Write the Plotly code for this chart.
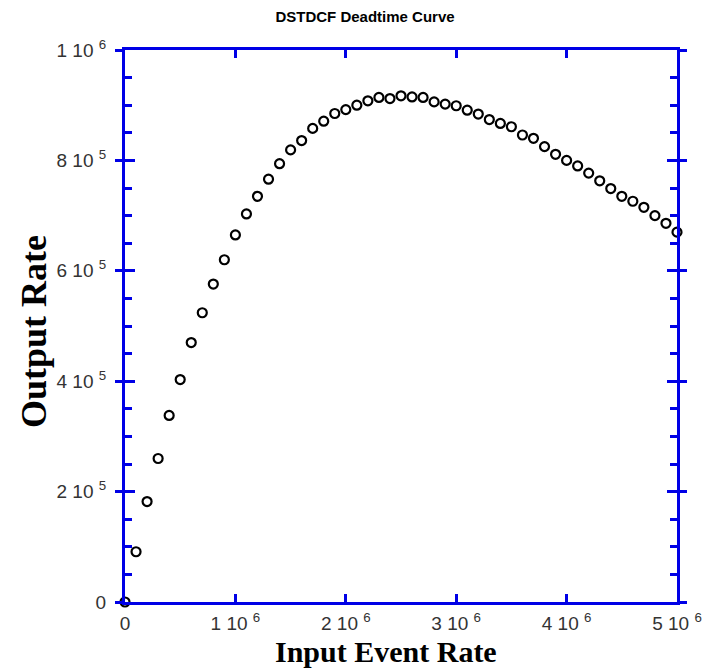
import plotly.graph_objects as go

# ---- data ----
input_rate = [0, 100000, 200000, 300000, 400000, 500000, 600000, 700000, 800000, 900000,
              1000000, 1100000, 1200000, 1300000, 1400000, 1500000, 1600000, 1700000, 1800000, 1900000,
              2000000, 2100000, 2200000, 2300000, 2400000, 2500000, 2600000, 2700000, 2800000, 2900000,
              3000000, 3100000, 3200000, 3300000, 3400000, 3500000, 3600000, 3700000, 3800000, 3900000,
              4000000, 4100000, 4200000, 4300000, 4400000, 4500000, 4600000, 4700000, 4800000, 4900000,
              5000000]
output_rate = [0, 91000, 182000, 260000, 338000, 403000, 470000, 524000, 576000, 620000,
               665000, 703000, 735000, 766000, 794000, 819000, 836000, 858000, 871000, 885000,
               892000, 900000, 908000, 914000, 912000, 917000, 915000, 914000, 906000, 902000,
               899000, 891000, 884000, 874000, 867000, 861000, 846000, 840000, 825000, 811000,
               800000, 790000, 777000, 763000, 749000, 735000, 726000, 715000, 700000, 686000,
               670000]

x_tickvals = [0, 1000000, 2000000, 3000000, 4000000, 5000000]
x_ticktext = ["0", "1 10 <sup>6</sup>", "2 10 <sup>6</sup>", "3 10 <sup>6</sup>",
              "4 10 <sup>6</sup>", "5 10 <sup>6</sup>"]
y_tickvals = [0, 200000, 400000, 600000, 800000, 1000000]
y_ticktext = ["0", "2 10 <sup>5</sup>", "4 10 <sup>5</sup>", "6 10 <sup>5</sup>",
              "8 10 <sup>5</sup>", "1 10 <sup>6</sup>"]

title_text = "DSTDCF Deadtime Curve"
x_title = "Input Event Rate"
y_title = "Output Rate"

BLUE = "#0000E6"
LABEL_FONT = dict(family="Liberation Sans, Arial, sans-serif", size=19, color="#333333")

# page body has an 8px default margin; the figure is sized so the page fits 720x668
W, H = 712, 660
L, T, PW, PH = 117, 42, 552, 552

fig = go.Figure()
fig.add_trace(go.Scatter(
    x=input_rate, y=output_rate, mode="markers",
    marker=dict(symbol="circle-open", size=9, color="black", line=dict(width=2.2, color="black")),
    cliponaxis=False, showlegend=False, hoverinfo="skip",
))
# same data bound to the overlay axis (transparent) so that axis is rendered
fig.add_trace(go.Scatter(
    x=input_rate, y=output_rate, yaxis="y2", mode="markers",
    marker=dict(size=1, opacity=0), showlegend=False, hoverinfo="skip",
))

fig.update_layout(
    width=W, height=H,
    paper_bgcolor="white", plot_bgcolor="white",
    margin=dict(l=L, r=W - L - PW, t=T, b=H - T - PH, autoexpand=False),
    title=dict(text=title_text, x=(357 - L) / PW, xref="paper", xanchor="center",
               y=1 - 9 / H, yref="container", yanchor="middle",
               font=dict(family="Liberation Sans, Arial, sans-serif", size=15, color="black",
                         weight="bold")),
    xaxis=dict(range=[0, 5000000], showgrid=False, zeroline=False, automargin=False,
               showline=True, linecolor=BLUE, linewidth=3, mirror="ticks",
               ticks="inside", ticklen=8, tickwidth=2.5, tickcolor=BLUE,
               tickvals=x_tickvals, ticktext=x_ticktext, tickfont=LABEL_FONT,
               ticklabelstandoff=2),
    # primary y: inside major + inside minor ticks, mirrored
    yaxis=dict(range=[0, 1000000], showgrid=False, zeroline=False, automargin=False,
               showline=True, linecolor=BLUE, linewidth=3, mirror="ticks",
               ticks="inside", ticklen=10, tickwidth=2.5, tickcolor=BLUE,
               tickvals=y_tickvals, showticklabels=False,
               minor=dict(ticks="inside", ticklen=7, tickwidth=2.5, tickcolor=BLUE,
                          dtick=50000, tick0=0, showgrid=False)),
    # overlay y: outside major ticks (mirrored) + labels
    yaxis2=dict(range=[0, 1000000], overlaying="y", side="left", showgrid=False,
                zeroline=False, showline=False, mirror="ticks", automargin=False,
                ticks="outside", ticklen=9, tickwidth=2.5, tickcolor=BLUE,
                tickvals=y_tickvals, ticktext=y_ticktext, tickfont=LABEL_FONT,
                ticklabelstandoff=5),
    annotations=[
        dict(text=x_title, xref="paper", yref="paper", x=(386 - 125) / PW, y=-(651 - 602) / PH,
             xanchor="center", yanchor="middle", showarrow=False,
             font=dict(family="Liberation Serif, Times New Roman, serif", size=30,
                       color="black", weight="bold")),
        dict(text=y_title, xref="paper", yref="paper", x=-(125 - 34) / PW, y=(602 - 332) / PH,
             xanchor="center", yanchor="middle", showarrow=False, textangle=-90,
             font=dict(family="Liberation Serif, Times New Roman, serif", size=36,
                       color="black", weight="bold")),
    ],
)

fig.write_html("out.html")
